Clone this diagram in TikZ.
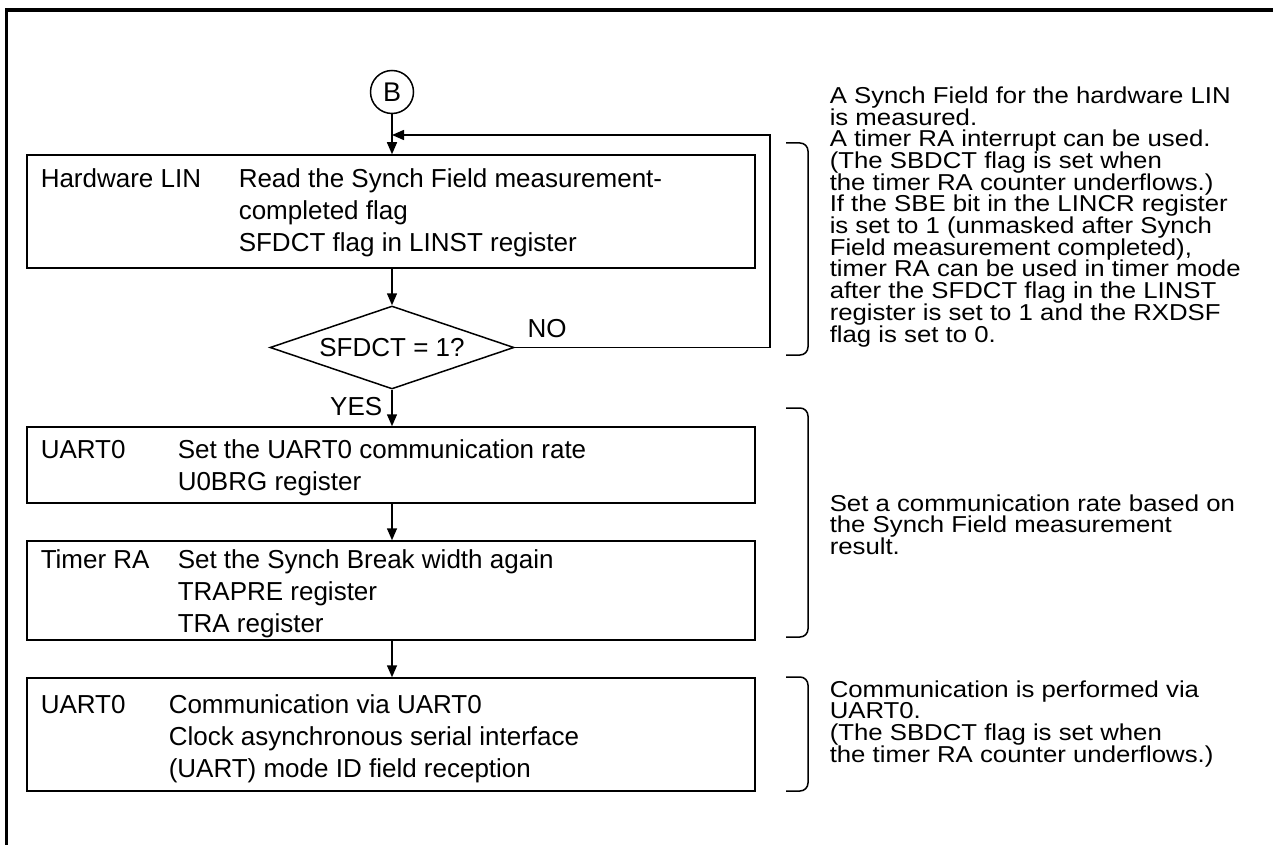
\documentclass[tikz,border=0pt]{standalone}
\usepackage{fontspec}
\setmainfont{Liberation Sans}
\newfontfamily\sidefont[FakeStretch=1.12]{Liberation Sans}
\usetikzlibrary{shapes.geometric,arrows.meta}
\begin{document}
\begin{tikzpicture}[x=1pt,y=-1pt,
  line width=1.5pt,
  arr/.style={-{Triangle[length=12pt,width=10pt]}},
  procbox/.style={draw, rectangle, minimum width=728pt, inner sep=0pt},
  boxtext/.style={anchor=base west, inner sep=0pt, align=left, font=\fontsize{26}{32}\selectfont},
  sidetext/.style={anchor=base west, inner sep=0pt, align=left, font=\sidefont\fontsize{23}{21.7}\selectfont},
  lbl/.style={inner sep=0pt, font=\fontsize{26}{26}\selectfont},
  brk/.style={rounded corners=8pt, line width=1.5pt}]
\useasboundingbox (0,0) rectangle (1273,845);
\draw[line width=3.5pt] (6.5,845) -- (6.5,10) -- (1273,10);

\node[draw, circle, minimum size=43pt, inner sep=0pt, font=\fontsize{27}{27}\selectfont] (B) at (392,92) {B};
\node[procbox, minimum height=113pt] (b1) at (391,211.5) {};
\node[draw, diamond, aspect=2.94, minimum width=244pt, minimum height=83pt, inner sep=0pt, lbl] (d) at (392,347.5) {SFDCT = 1?};
\node[procbox, minimum height=76pt] (b2) at (391,465) {};
\node[procbox, minimum height=99pt] (b3) at (391,590.5) {};
\node[procbox, minimum height=113pt] (b4) at (391,734.5) {};

\coordinate (j) at (392,135);
\coordinate (lc) at (770,347.5);
\draw[arr] (B) -- (b1.north -| B);
\draw[arr] (d.east) -- (lc) -- (lc |- j) -- (j);
\draw[arr] (b1.south -| d) -- (d.north);
\draw[arr] (d.south) -- (b2.north -| d);
\draw[arr] (b2.south -| d) -- (b3.north -| d);
\draw[arr] (b3.south -| d) -- (b4.north -| d);

\node[lbl, anchor=base] (no) at (547,337) {NO};
\node[lbl, anchor=base east] (yes) at (383,415) {YES};

\node[boxtext] (t1a) at (40,187) {Hardware LIN};
\node[boxtext] (t1b) at (238,251) {Read the Synch Field measurement-\\completed flag\\SFDCT flag in LINST register};
\node[boxtext] (t2a) at (40,458) {UART0};
\node[boxtext] (t2b) at (177,490) {Set the UART0 communication rate\\U0BRG register};
\node[boxtext] (t3a) at (40,568) {Timer RA};
\node[boxtext] (t3b) at (177,632) {Set the Synch Break width again\\TRAPRE register\\TRA register};
\node[boxtext] (t4a) at (40,713) {UART0};
\node[boxtext] (t4b) at (168,777) {Communication via UART0\\Clock asynchronous serial interface\\(UART) mode ID field reception};

\draw[brk] (786,143) -- (808,143) -- (808,355) -- (786,355);
\draw[brk] (786,408) -- (808,408) -- (808,637) -- (786,637);
\draw[brk] (786,677) -- (808,677) -- (808,791) -- (786,791);

\node[sidetext] (s1) at (829,342) {A Synch Field for the hardware LIN\\is measured.\\A timer RA interrupt can be used.\\(The SBDCT flag is set when\\the timer RA counter underflows.)\\If the SBE bit in the LINCR register\\is set to 1 (unmasked after Synch\\Field measurement completed),\\timer RA can be used in timer mode\\after the SFDCT flag in the LINST\\register is set to 1 and the RXDSF\\flag is set to 0.};
\node[sidetext] (s2) at (829,554.4) {Set a communication rate based on\\the Synch Field measurement\\result.};
\node[sidetext] (s3) at (829,762.1) {Communication is performed via\\UART0.\\(The SBDCT flag is set when\\the timer RA counter underflows.)};
\end{tikzpicture}
\end{document}
